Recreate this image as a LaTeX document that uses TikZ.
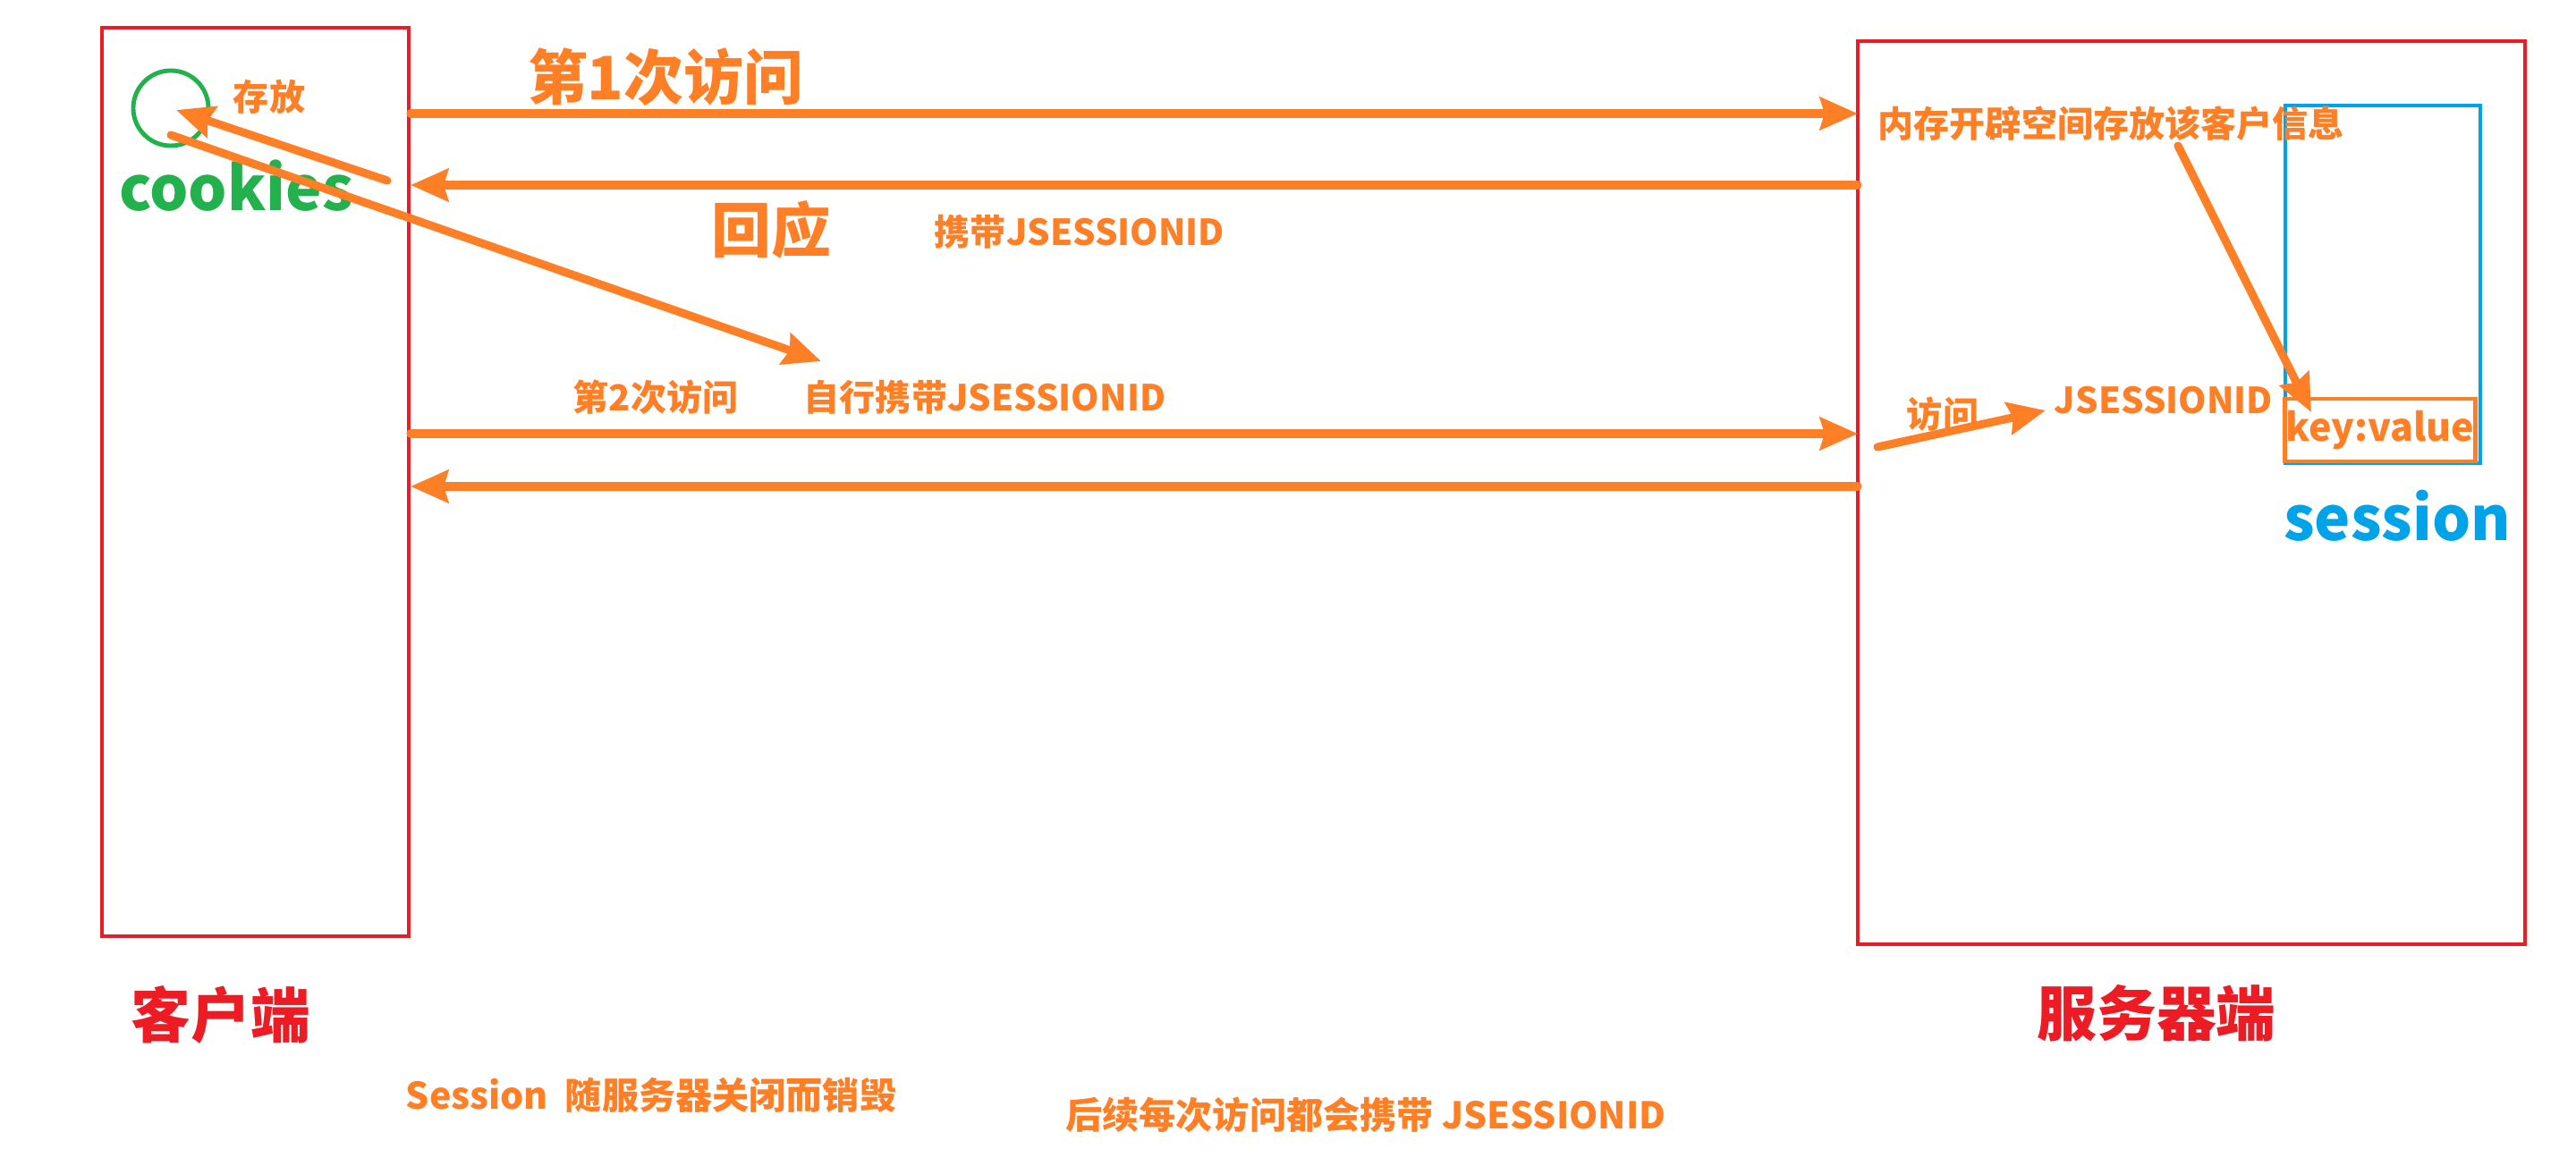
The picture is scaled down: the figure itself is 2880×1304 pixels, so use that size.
\documentclass[tikz,border=0pt]{standalone}
\usepackage{fontspec}
\setmainfont{Noto Sans CJK SC}
\usetikzlibrary{arrows.meta}
\definecolor{corange}{HTML}{FF7F27}
\definecolor{cred}{HTML}{ED1C24}
\definecolor{cgreen}{HTML}{22B14C}
\definecolor{cblue}{HTML}{00A2E8}
\begin{document}
\begin{tikzpicture}[x=0.01cm,y=-0.01cm,
  every node/.style={inner sep=0pt},
  redbox/.style={draw=cred, line width=1.3pt},
  arr/.style={draw=corange, line width=2.6pt, line cap=round, -{Stealth[length=0.42cm,width=0.36cm,inset=0.05cm]}},
  small/.style={text=corange, font=\bfseries\fontsize{11.4}{13}\selectfont},
  mid/.style={text=corange, font=\bfseries\fontsize{11.7}{14}\selectfont},
  big/.style={text=corange, font=\bfseries\fontsize{19}{22}\selectfont},
  title/.style={text=cred, font=\bfseries\fontsize{19}{22}\selectfont},
]
\fill[white] (0,0) rectangle (2880,1304);
\useasboundingbox (0,0) rectangle (2880,1304);
% boxes
\draw[redbox] (114,31) rectangle (457,1047);
\draw[redbox] (2077,46) rectangle (2823,1056);
\draw[draw=cblue, line width=1.4pt] (2555,118) rectangle (2773,518);
\node[draw=corange, line width=1.4pt, minimum width=2.13cm, minimum height=0.70cm,
      text=corange, font=\bfseries\fontsize{12.2}{14}\selectfont] (kv) at (2661,481) {key:value};
% client side
\node[draw=cgreen, circle, line width=1.4pt, minimum size=0.84cm] (cookie) at (191,121) {};
\node[text=cgreen, font=\bfseries\fontsize{19.4}{24}\selectfont] (cookies) at (264,208) {cookies};
\node[small] (cunfang) at (301,108) {存放};
% labels
\node[big] (first) at (744,86) {第1次访问};
\node[big] (huiying) at (862,257) {回应};
\node[small] (carry) at (1207,259) {携带JSESSIONID};
\node[small] (second) at (733,444) {第2次访问};
\node[small] (self) at (1101,444) {自行携带JSESSIONID};
\node[small] (fangwen) at (2172,463) {访问};
\node[small] (jsid) at (2419,448) {JSESSIONID};
\node[small, anchor=west] (mem) at (2099,138) {内存开辟空间存放该客户信息};
\node[text=cblue, font=\bfseries\fontsize{19.3}{24}\selectfont] (sess) at (2680,577) {session};
\node[title] (client) at (247,1135) {客户端};
\node[title] (server) at (2411,1133) {服务器端};
\node[mid] (destroy) at (728,1225) {Session\ \ 随服务器关闭而销毁};
\node[mid] (later) at (1527,1247) {后续每次访问都会携带 JSESSIONID};
% coordinates
\coordinate (a1s) at (459,127);  \coordinate (a1e) at (2077,127);
\coordinate (a2s) at (2077,207); \coordinate (a2e) at (459,207);
\coordinate (a3s) at (433,202);  \coordinate (a3e) at (197,123);
\coordinate (a4s) at (191,151);  \coordinate (a4e) at (918,404);
\coordinate (a5s) at (459,485);  \coordinate (a5e) at (2077,485);
\coordinate (a6s) at (2077,544); \coordinate (a6e) at (459,544);
\coordinate (a7s) at (2099,500); \coordinate (a7e) at (2287,459);
\coordinate (a8s) at (2435,163); \coordinate (a8e) at (2584,461);
% arrows
\draw[arr] (a1s) -- (a1e);
\draw[arr] (a2s) -- (a2e);
\draw[arr] (a3s) -- (a3e);
\draw[arr] (a4s) -- (a4e);
\draw[arr] (a5s) -- (a5e);
\draw[arr] (a6s) -- (a6e);
\draw[arr] (a7s) -- (a7e);
\draw[arr] (a8s) -- (a8e);
\end{tikzpicture}
\end{document}
